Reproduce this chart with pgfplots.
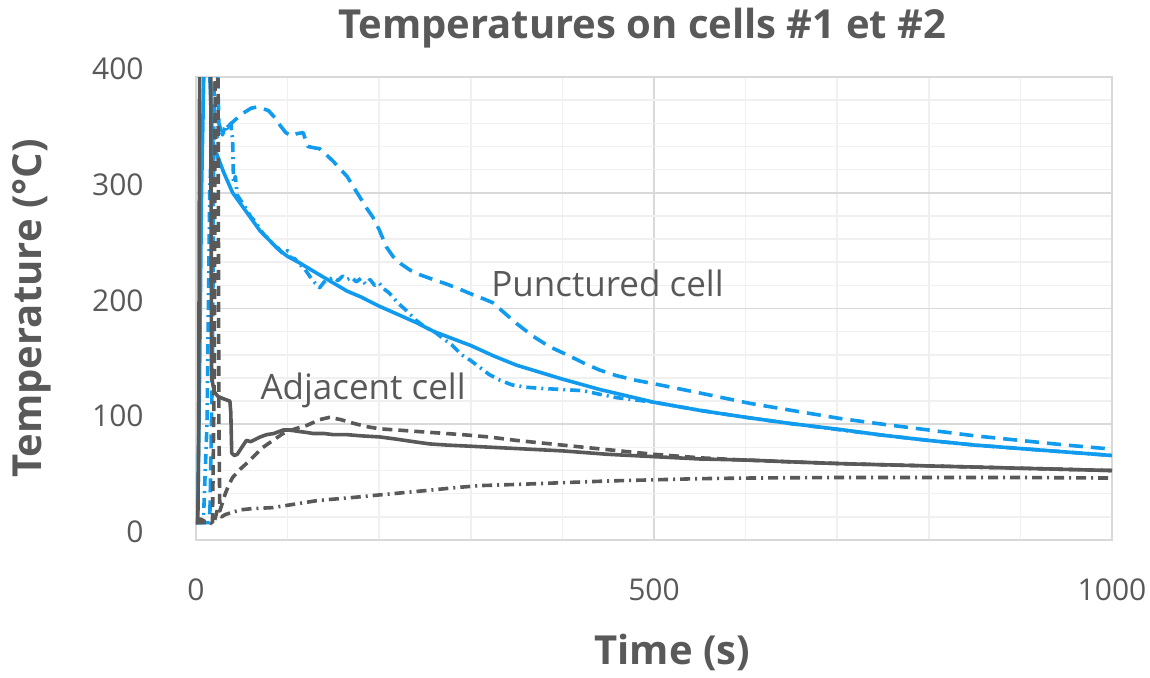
\documentclass[border=0pt]{standalone}
\usepackage{fontspec}
\setmainfont{Open Sans}
\usepackage{pgfplots}
\pgfplotsset{compat=1.18}
\definecolor{cblue}{RGB}{17,155,238}
\definecolor{cdark}{RGB}{89,89,89}
\definecolor{txt}{RGB}{89,89,89}
\definecolor{gmaj}{RGB}{217,217,217}
\definecolor{gmin}{RGB}{240,240,240}

\begin{document}
\begin{tikzpicture}
\useasboundingbox (-98pt,-69pt) rectangle (477pt,270pt);
\begin{axis}[
    at={(0,0)}, anchor=south west,
    scale only axis,
    width=458pt, height=231.5pt,
    clip mode=individual,
    xmin=0, xmax=1000, ymin=0, ymax=400,
    xtick={0,500,1000},
    ytick={0,100,...,400},
    minor x tick num=4,
    minor y tick num=4,
    major tick length=0pt, minor tick length=0pt,
    grid=both,
    major grid style={gmaj, line width=0.8pt},
    minor grid style={gmin, line width=0.8pt},
    axis line style={gmaj, line width=0.8pt},
    /pgf/number format/assume math mode=true,
    /pgf/number format/1000 sep={},
    tick label style={font=\fontsize{15}{17}\selectfont, text=txt, inner sep=0pt},
    xticklabel style={anchor=center, yshift=-25pt},
    yticklabel style={anchor=east, xshift=-26pt, yshift=4pt},
    xlabel={Time (s)},
    xlabel style={at={(axis description cs:0.52,-0.242)}, anchor=center,
        font=\fontsize{20}{22}\selectfont\bfseries, text=txt},
    ylabel={Temperature (°C)},
    ylabel style={at={(axis description cs:-0.179,0.5)}, anchor=center,
        font=\fontsize{20}{22}\selectfont\bfseries, text=txt},
    every axis plot/.append style={line width=1.8pt, line join=round},
]
% punctured cell, dashed
\addplot[cblue, dash pattern=on 7pt off 4pt] coordinates {
(0,15) (15,15) (18,150) (20,420) (23,420) (25,360) (28,352) (32,355) (36,358)
(40,361) (50,368) (60,373) (66,374) (72,373) (79,371) (86,365) (92,358) (98,352)
(104,349) (110,351) (117,352) (122,340) (128,339) (135,338) (142,333) (150,327)
(158,320) (165,314) (172,305) (179,296) (186,287) (193,279) (200,268) (208,253)
(215,245) (223,239) (234,233) (245,229) (259,225) (274,221) (290,216) (302,212)
(315,208) (324,205) (337,196) (350,187) (368,176) (386,167) (405,160) (423,153)
(440,147) (459,142) (480,138) (500,135) (550,127) (605,118) (650,112) (703,105)
(750,100) (800,95) (850,90) (900,86) (950,82) (1000,78.5)
};
% punctured cell, dash dot
\addplot[cblue, dash pattern=on 5pt off 2.5pt on 1pt off 2.5pt] coordinates {
(0,15) (8,15) (12,100) (15,300) (17,345) (20,352) (23,348) (26,356) (29,350)
(32,358) (35,354) (38,360) (40,345) (41,308) (43,314) (45,298) (50,292) (55,286)
(60,279) (65,275) (70,268) (75,263) (80,260) (85,254) (90,252) (95,247) (100,250)
(103,244) (108,243) (112,239) (118,235) (124,228) (130,222) (135,218) (140,223)
(145,225) (150,227) (155,224) (160,228) (165,225) (170,227) (175,223) (180,226)
(185,221) (190,225) (195,220) (200,222) (205,217) (210,214) (215,210) (220,205)
(230,198) (240,190) (250,184) (260,180) (270,174) (280,168) (290,160) (300,155)
(310,149) (320,143) (332,138) (345,134) (360,132) (376,131) (400,130) (423,129)
(440,126) (459,123) (480,121) (500,119) (550,112) (600,106) (650,100.5) (700,95.5)
(750,90.5) (800,86) (850,82) (900,79) (950,76) (1000,73)
};
% punctured cell, solid
\addplot[cblue] coordinates {
(0,17) (2,25) (4,150) (6,300) (9,420) (14,420) (18,345) (22,335) (30,318)
(40,300) (50,289) (60,278) (70,267) (80,259) (90,251) (100,245) (114,239)
(135,229) (150,222) (165,215) (180,210) (200,202) (220,195) (240,188) (260,180)
(280,174) (300,168) (325,159) (350,151) (375,145) (400,139) (441,130) (500,119)
(550,112) (600,106) (650,100.5) (703,95.5) (750,90.5) (800,86) (850,82) (900,79)
(950,76) (1000,73)
};
% adjacent cell, dash dot
\addplot[cdark, dash pattern=on 5pt off 2.5pt on 1pt off 2.5pt] coordinates {
(0,18) (5,18) (10,16) (15,15) (18,14) (20,16) (23,25) (25,28) (28,20) (32,22)
(40,24) (48,26) (60,27) (84,28) (100,30) (132,34) (146,35) (175,37) (201,39)
(228,41) (255,43) (280,45) (310,47) (350,48) (400,49.5) (450,51) (500,52)
(550,53) (600,53.5) (700,54) (800,54) (900,54) (1000,53.5)
};
% adjacent cell, dashed
\addplot[cdark, dash pattern=on 5pt off 3pt] coordinates {
(0,15) (18,15) (20,150) (21,420) (24,420) (25,100) (26,25) (28,30) (32,40)
(36,48) (40,54) (48,61) (55,66) (64,73) (73,80) (84,86) (95,92) (108,96)
(121,99) (135,104) (146,106) (158,104) (171,101) (186,98) (201,96) (220,95)
(237,94) (264,92.5) (291,91) (320,89) (350,86) (400,82) (450,78) (500,74)
(550,71) (600,69) (650,67.5) (703,66) (750,65) (800,64) (850,63) (900,62)
(950,61) (1000,60)
};
% adjacent cell, solid
\addplot[cdark] coordinates {
(0,15) (2,15) (3,100) (4,420) (16,420) (17,140) (20,128) (24,124) (30,122)
(37,120) (38,110) (39,75) (42,73) (45,74) (50,80) (55,86) (60,85) (65,87)
(70,89) (77,91) (85,92) (95,95) (103,95) (110,94) (120,93) (128,92) (140,92)
(150,91) (165,91) (180,90) (201,89) (220,87) (237,85) (255,83) (274,82)
(300,81) (350,79) (400,77) (450,74) (500,72) (550,70) (605,69) (650,67.5)
(703,66) (750,65) (800,64) (850,63) (900,62) (950,61) (1000,60)
};
\node[anchor=base west, inner sep=0pt, font=\fontsize{17.5}{20}\selectfont, text=txt]
    at (axis cs:322,210) {Punctured cell};
\node[anchor=base west, inner sep=0pt, font=\fontsize{17.5}{20}\selectfont, text=txt]
    at (axis cs:70,121) {Adjacent cell};
\node[anchor=center, inner sep=0pt, font=\fontsize{20}{22}\selectfont\bfseries, text=txt]
    at (axis description cs:0.487,1.106) {Temperatures on cells \#1 et \#2};
\end{axis}
\end{tikzpicture}
\end{document}
